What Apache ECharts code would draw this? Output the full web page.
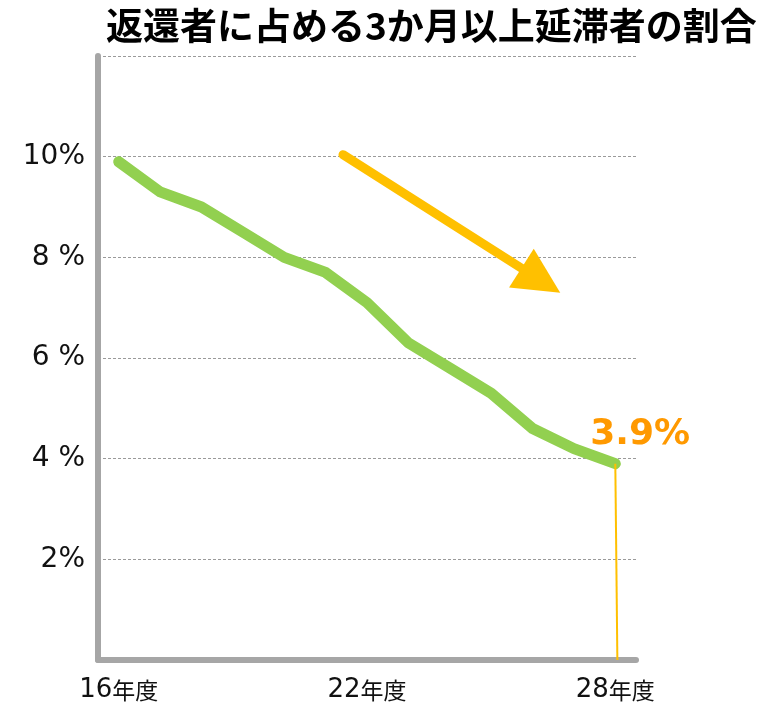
<!DOCTYPE html>
<html>
<head>
<meta charset="utf-8">
<script src="https://cdn.jsdelivr.net/npm/echarts@6/dist/echarts.min.js"></script>
<style>
  html, body { margin: 0; padding: 0; background: #fff; }
  #main { width: 776px; height: 703px; }
</style>
</head>
<body>
<div id="main"></div>
<script>
var titleText = "返還者に占める3か月以上延滞者の割合";
var years = [16, 17, 18, 19, 20, 21, 22, 23, 24, 25, 26, 27, 28];
var rates = [9.9, 9.3, 9.0, 8.5, 8.0, 7.7, 7.1, 6.3, 5.8, 5.3, 4.6, 4.2, 3.9];
var xTickYears = [16, 22, 28];
var yTickValues = [2, 4, 6, 8, 10];
var yTickLabels = ["2%", "4 %", "6 %", "8 %", "10%"];
// trend arrow, in data units (year, %)
var arrowFrom = [21.42, 10.04];
var arrowTo = [26.2, 7.54];

var lineData = [];
for (var i = 0; i < years.length; i++) {
    lineData.push([years[i], rates[i]]);
}
var lastIdx = years.length - 1;

var myChart = echarts.init(document.getElementById('main'));

var option = {
    animation: false,
    backgroundColor: '#ffffff',
    title: {
        text: titleText,
        left: 101,
        top: 2,
        textStyle: {
            fontFamily: 'Noto Sans CJK JP',
            fontWeight: 'bold',
            fontSize: 37,
            color: '#000'
        }
    },
    grid: {
        left: 98,
        right: 140,
        top: 56,
        bottom: 42,
        containLabel: false
    },
    xAxis: {
        type: 'value',
        min: 15.5,
        max: 28.5,
        splitLine: { show: false },
        axisTick: { show: false },
        axisLine: {
            show: true,
            onZero: false,
            lineStyle: { color: '#a6a6a6', width: 6, cap: 'round' }
        },
        axisLabel: {
            customValues: xTickYears,
            margin: 17,
            formatter: function (v) {
                return '{n|' + v + '}{k|年度}';
            },
            rich: {
                n: { fontFamily: 'DejaVu Sans', fontSize: 26, color: '#111' },
                k: { fontFamily: 'Noto Sans CJK JP', fontSize: 23, color: '#111' }
            }
        }
    },
    yAxis: {
        type: 'value',
        min: 0,
        max: 12,
        interval: 2,
        axisTick: { show: false },
        axisLine: {
            show: true,
            lineStyle: { color: '#a6a6a6', width: 6 }
        },
        splitLine: {
            show: true,
            lineStyle: { color: '#9a9a9a', type: [3, 2], width: 1 }
        },
        axisLabel: {
            margin: 13,
            fontFamily: 'DejaVu Sans',
            fontSize: 28,
            color: '#111',
            formatter: function (v) {
                var k = yTickValues.indexOf(v);
                return k < 0 ? '' : yTickLabels[k];
            }
        }
    },
    series: [{
        type: 'line',
        data: lineData,
        showSymbol: false,
        smooth: false,
        lineStyle: { color: '#92d050', width: 11, cap: 'round', join: 'round' },
        itemStyle: { color: '#92d050' },
        endLabel: {
            show: true,
            formatter: function () {
                return rates[lastIdx] + '%';
            },
            fontFamily: 'DejaVu Sans',
            fontWeight: 'bold',
            fontSize: 36,
            color: '#ff9900',
            offset: [-33, -29]
        },
        markLine: {
            silent: true,
            label: { show: false },
            emphasis: { disabled: true },
            data: [
                [
                    { coord: arrowFrom, symbol: 'none',
                      lineStyle: { color: '#ffc000', width: 9, cap: 'round', type: 'solid' } },
                    { coord: arrowTo, symbol: 'triangle', symbolSize: [46, 46] }
                ],
                [
                    { coord: [years[lastIdx], rates[lastIdx]], symbol: 'none',
                      lineStyle: { color: '#ffc000', width: 2, type: 'solid' } },
                    { coord: [years[lastIdx] + 0.05, 0], symbol: 'none' }
                ]
            ]
        }
    }]
};

myChart.setOption(option);
</script>
</body>
</html>
